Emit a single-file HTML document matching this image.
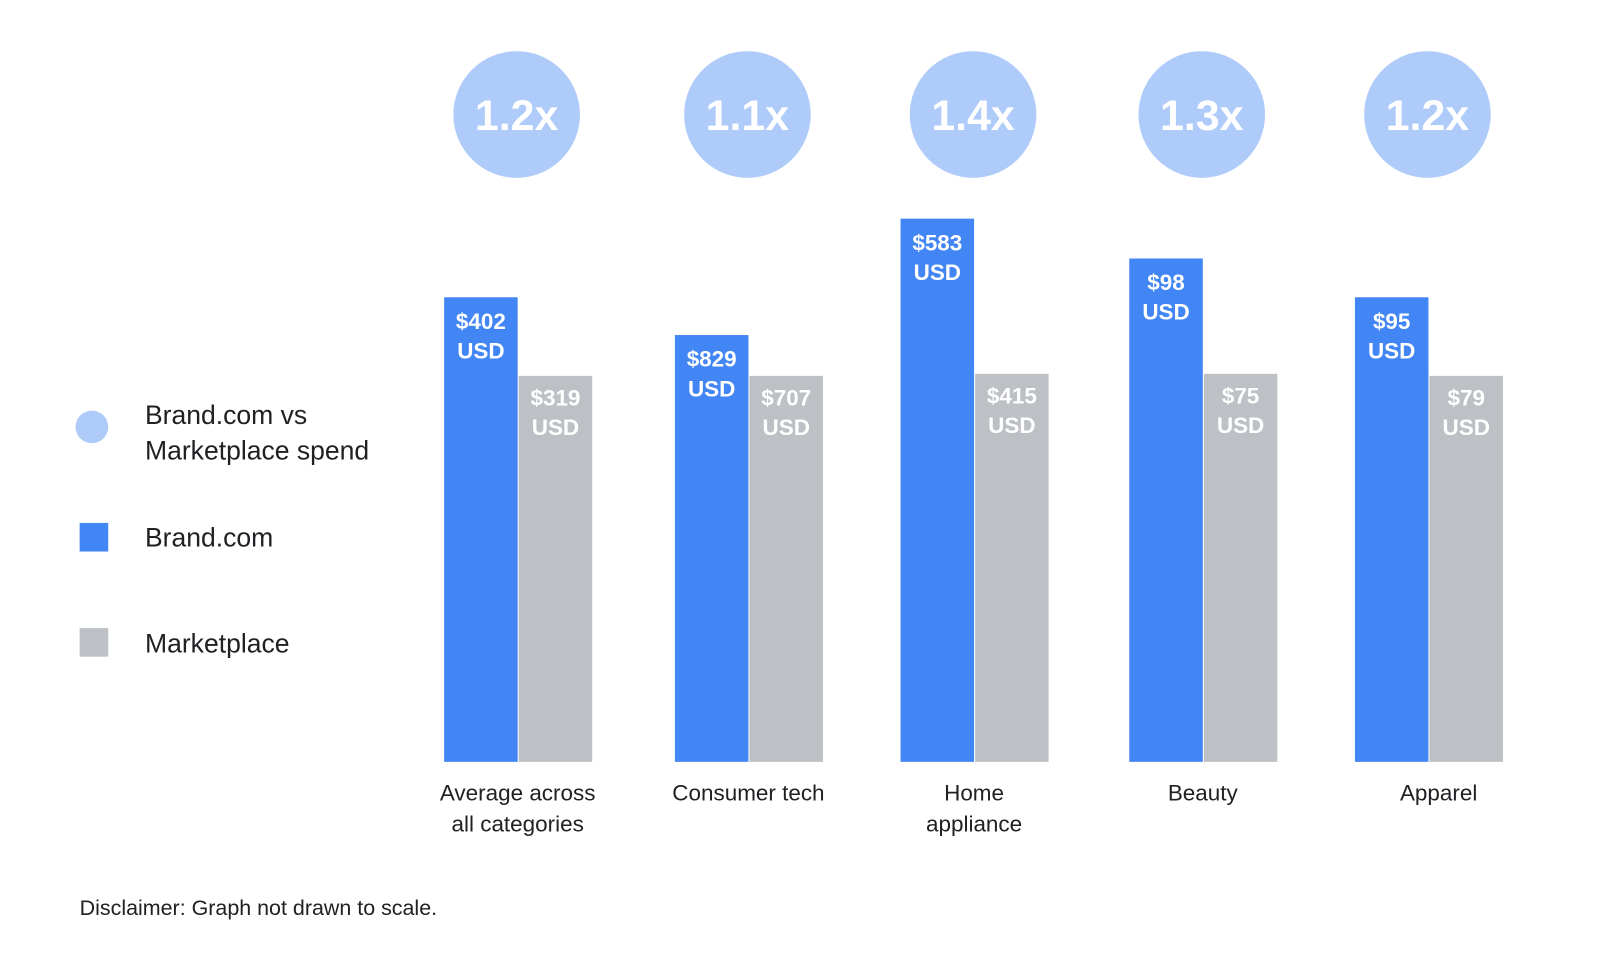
<!DOCTYPE html>
<html>
<head>
<meta charset="utf-8">
<style>
  html,body{margin:0;padding:0;background:#fff;}
  body{width:1601px;height:956px;overflow:hidden;font-family:"Liberation Sans",sans-serif;}
  svg text{font-family:"Liberation Sans",sans-serif;}
</style>
</head>
<body>
<svg id="chart" width="1601" height="956" viewBox="0 0 1568 936" xmlns="http://www.w3.org/2000/svg">
  <g>
    <circle cx="90" cy="418" r="16" fill="#aecbfa"/>
    <text x="142" y="415" font-size="26" fill="#202124">Brand.com vs</text>
    <text x="142" y="450" font-size="26" fill="#202124">Marketplace spend</text>
    <rect x="78" y="512" width="28" height="28" fill="#4285f4"/>
    <text x="142" y="535" font-size="26" fill="#202124">Brand.com</text>
    <rect x="78" y="615" width="28" height="28" fill="#bdc1c6"/>
    <text x="142" y="639" font-size="26" fill="#202124">Marketplace</text>
  </g>
  <g id="marks"></g>
  <text x="78" y="896" font-size="21" fill="#202124">Disclaimer: Graph not drawn to scale.</text>
</svg>
<script>
const categories = [["Average across","all categories"],["Consumer tech"],["Home","appliance"],["Beauty"],["Apparel"]];
const ratios = ["1.2x","1.1x","1.4x","1.3x","1.2x"];
const brandValues = [402, 829, 583, 98, 95];
const marketValues = [319, 707, 415, 75, 79];
// Graph not drawn to scale: visual bar heights (relative units)
const barHeightsBrand = [455, 418, 532, 493, 455];
const barHeightsMarket = [378, 378, 380, 380, 378];

const baseline = 746, plotTop = 214, maxUnits = 532;
function yScale(v){ return baseline - (v / maxUnits) * (baseline - plotTop); }
const groupStarts = [435, 661, 882, 1106, 1327];
function xScale(i){ return groupStarts[i]; }
const barW = 72;

const NS = "http://www.w3.org/2000/svg";
const g = document.getElementById("marks");
function mk(tag, attrs){ const e = document.createElementNS(NS, tag); for (const k in attrs) e.setAttribute(k, attrs[k]); return e; }

categories.forEach((cat, i) => {
  const x0 = xScale(i);
  const cx = x0 + barW;
  const c = mk("circle", {cx: cx - 1, cy: 112, r: 62, fill: "#aecbfa"});
  
  
  g.appendChild(c);
  const ct = mk("text", {x: cx - 1, y: 127, "font-size": 42, "font-weight": "bold", fill: "#fff", "text-anchor": "middle"});
  ct.textContent = ratios[i];
  
  
  g.appendChild(ct);

  const yb = yScale(barHeightsBrand[i]);
  const rb = mk("rect", {x: x0, y: yb, width: barW, height: baseline - yb, fill: "#4285f4"});
  
  
  g.appendChild(rb);
  [["$" + brandValues[i], 31], ["USD", 60]].forEach(([t, dy]) => {
    const tx = mk("text", {x: x0 + barW/2, y: yb + dy, "font-size": 22, "font-weight": "bold", fill: "#fff", "text-anchor": "middle"});
    tx.textContent = t;
    
    
    g.appendChild(tx);
  });

  const ym = yScale(barHeightsMarket[i]);
  const rm = mk("rect", {x: x0 + barW + 1, y: ym, width: barW, height: baseline - ym, fill: "#bdc1c6"});
  
  
  g.appendChild(rm);
  [["$" + marketValues[i], 29], ["USD", 58]].forEach(([t, dy]) => {
    const tx = mk("text", {x: x0 + barW + 1 + barW/2, y: ym + dy, "font-size": 22, "font-weight": "bold", fill: "#fff", "text-anchor": "middle"});
    tx.textContent = t;
    
    
    g.appendChild(tx);
  });

  cat.forEach((line, j) => {
    const lt = mk("text", {x: cx + (i === 4 ? 10 : 0), y: 784 + j * 30, "font-size": 22, fill: "#202124", "text-anchor": "middle"});
    lt.textContent = line;
    
    
    g.appendChild(lt);
  });
});
</script>
</body>
</html>
